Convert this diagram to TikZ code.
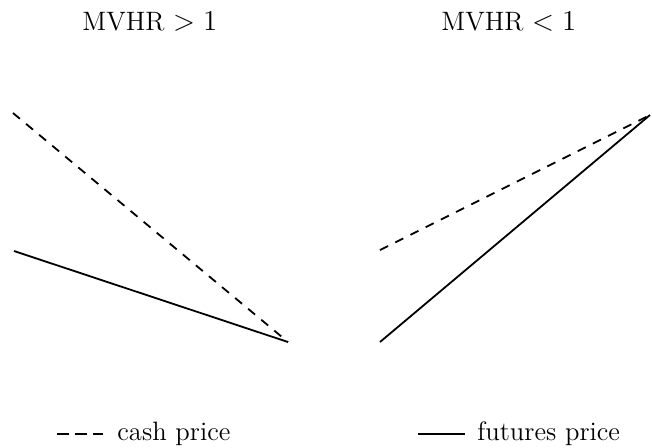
\documentclass[tikz,border=0pt]{standalone}
\begin{document}
\begin{tikzpicture}[
  x=0.5pt, y=-0.5pt,
  cash/.style={line width=0.9pt, dash pattern=on 4.5pt off 4pt, draw=black},
  futures/.style={line width=0.9pt, draw=black},
  lbl/.style={inner sep=0pt, anchor=base west, font=\fontsize{13.3}{16}\selectfont}
]
  \useasboundingbox (0,0) rectangle (652,447);

  % Titulos de los paneles
  \node[lbl] (t1) at (82,30) {MVHR $>1$};
  \node[lbl] (t2) at (441,30) {MVHR $<1$};

  % Panel izquierdo
  \coordinate (la) at (13,113);
  \coordinate (lb) at (14,251);
  \coordinate (lc) at (288,342);
  \draw[cash] (la) -- (lc);
  \draw[futures] (lb) -- (lc);

  % Panel derecho
  \coordinate (ra) at (380,250);
  \coordinate (rb) at (380,342);
  \coordinate (rc) at (650,115);
  \draw[cash] (ra) -- (rc);
  \draw[futures] (rb) -- (rc);

  % Leyenda
  \coordinate (c1) at (57,434);
  \coordinate (c2) at (103,434);
  \node[lbl] (cl) at (117,440) {cash price};
  \draw[cash, dash pattern=on 6pt off 3pt] (c1) -- (c2);
  \coordinate (f1) at (418,434);
  \coordinate (f2) at (465,434);
  \node[lbl] (fl) at (477,440) {futures price};
  \draw[futures] (f1) -- (f2);
\end{tikzpicture}
\end{document}
